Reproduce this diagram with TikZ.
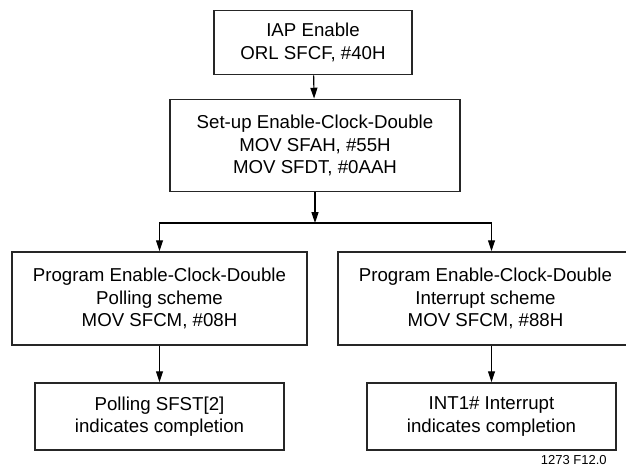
\documentclass[tikz,border=0pt]{standalone}
\usepackage{fontspec}
\setmainfont{Liberation Sans}
\usetikzlibrary{arrows.meta}

\begin{document}
\begin{tikzpicture}[x=0.6pt, y=-0.6pt,
    box/.style={draw=black!85, line width=1.1pt, align=center, inner sep=0pt,
      font=\fontsize{11.2}{13.6}\selectfont},
    flow/.style={line width=0.7pt, -{Triangle[length=6.5pt, width=4.2pt]}}]
      \useasboundingbox (0, 0) rectangle (626, 467);
      % top of the chart
      \node [box, minimum width=118.8pt, minimum height=38.4pt] (iap) at (313, 42.5) {IAP Enable\\ORL SFCF, \#40H};
      \node [box, minimum width=174pt, minimum height=55.2pt] (setup) at (315, 145.5) {Set-up Enable-Clock-Double\\MOV SFAH, \#55H\\MOV SFDT, \#0AAH};
      \draw [flow] (iap) -- (setup);
      % the two schemes
      \node [box, minimum width=177pt, minimum height=55.8pt] (poll) at (159.5, 298.5) {Program Enable-Clock-Double\\Polling scheme\\MOV SFCM, \#08H};
      \node [box, minimum width=177pt, minimum height=55.8pt] (intr) at (485.5, 298.5) {Program Enable-Clock-Double\\Interrupt scheme\\MOV SFCM, \#88H};
      % completion
      \node [box, minimum width=149.4pt, minimum height=40.2pt] (pdone) at (159.5, 416.5) {Polling SFST[2]\\indicates completion};
      \node [box, minimum width=149.4pt, minimum height=40.2pt] (idone) at (491.5, 416.5) {INT1\# Interrupt\\indicates completion};
      \coordinate (split) at (315, 223);
      \draw [flow] (setup) -- (split);
      \draw [flow] (split) -| (poll);
      \draw [flow] (split) -| (idone.north |- intr.north);
      \draw [flow] (poll) -- (pdone);
      \draw [flow] (intr.south -| idone) -- (idone);
      \node [anchor=east, inner sep=0pt, font=\fontsize{7.8}{9}\selectfont] (fig) at (607, 460) {1273 F12.0};
    \end{tikzpicture}
\end{document}
